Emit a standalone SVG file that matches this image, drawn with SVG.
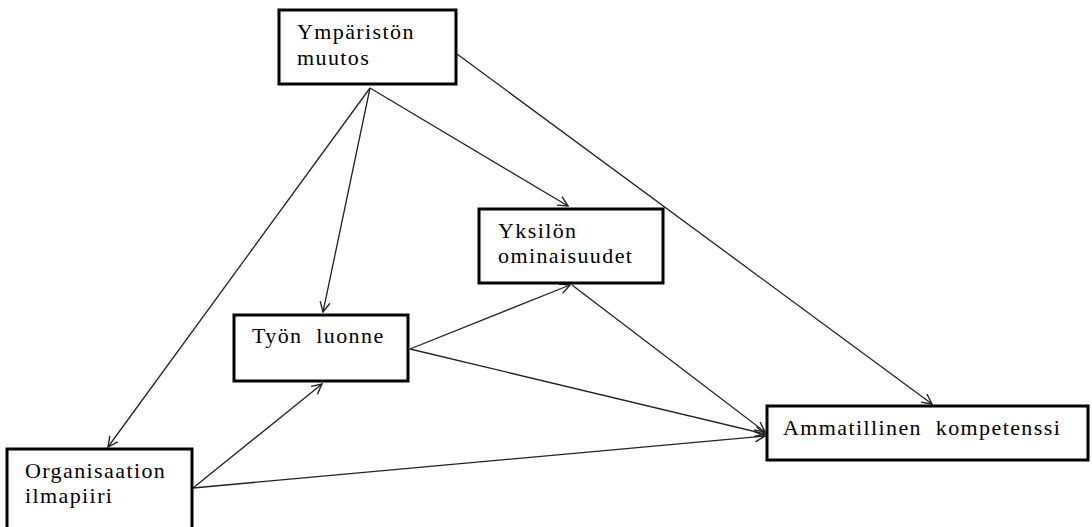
<svg xmlns="http://www.w3.org/2000/svg" width="1092" height="527" viewBox="0 0 1092 527">
<style>
.box{fill:#fff;stroke:#000;stroke-width:3}
.t{font-family:"Liberation Serif","Times New Roman",serif;font-size:22px;fill:#000;letter-spacing:1.4px;white-space:pre}
.c{stroke:#222;stroke-width:1.3;fill:none;marker-end:url(#ah)}
</style>
<defs>
<marker id="ah" viewBox="0 0 12 12" refX="11" refY="6" markerWidth="12" markerHeight="12" markerUnits="userSpaceOnUse" orient="auto">
<path d="M1,1 L11,6 L1,11" fill="none" stroke="#222" stroke-width="1.4"/>
</marker>
</defs>
<g id="connectors">
<line class="c" x1="370" y1="88" x2="108" y2="447"/>
<line class="c" x1="370" y1="88" x2="323" y2="312"/>
<line class="c" x1="370" y1="88" x2="568" y2="206"/>
<line class="c" x1="457" y1="54" x2="932" y2="404"/>
<line class="c" x1="572" y1="285" x2="765" y2="432"/>
<line class="c" x1="410" y1="349" x2="570" y2="285"/>
<line class="c" x1="410" y1="349" x2="765" y2="434"/>
<line class="c" x1="193" y1="488" x2="322" y2="384"/>
<line class="c" x1="193" y1="488" x2="765" y2="436"/>
</g>
<g id="ymparisto">
<rect class="box" x="279" y="10" width="177" height="74"/>
<text class="t" x="297" y="39">Ympäristön</text>
<text class="t" x="297" y="65">muutos</text>
</g>
<g id="yksilo">
<rect class="box" x="479" y="209" width="184" height="74"/>
<text class="t" x="498" y="238">Yksilön</text>
<text class="t" x="498" y="263">ominaisuudet</text>
</g>
<g id="tyo">
<rect class="box" x="234" y="315" width="174" height="66"/>
<text class="t" x="252" y="343" xml:space="preserve">Työn  luonne</text>
</g>
<g id="ammatillinen">
<rect class="box" x="767" y="406" width="321" height="54"/>
<text class="t" x="783" y="435" xml:space="preserve">Ammatillinen  kompetenssi</text>
</g>
<g id="organisaatio">
<rect class="box" x="7" y="449" width="185" height="80"/>
<text class="t" x="25" y="478">Organisaation</text>
<text class="t" x="25" y="503">ilmapiiri</text>
</g>
</svg>
